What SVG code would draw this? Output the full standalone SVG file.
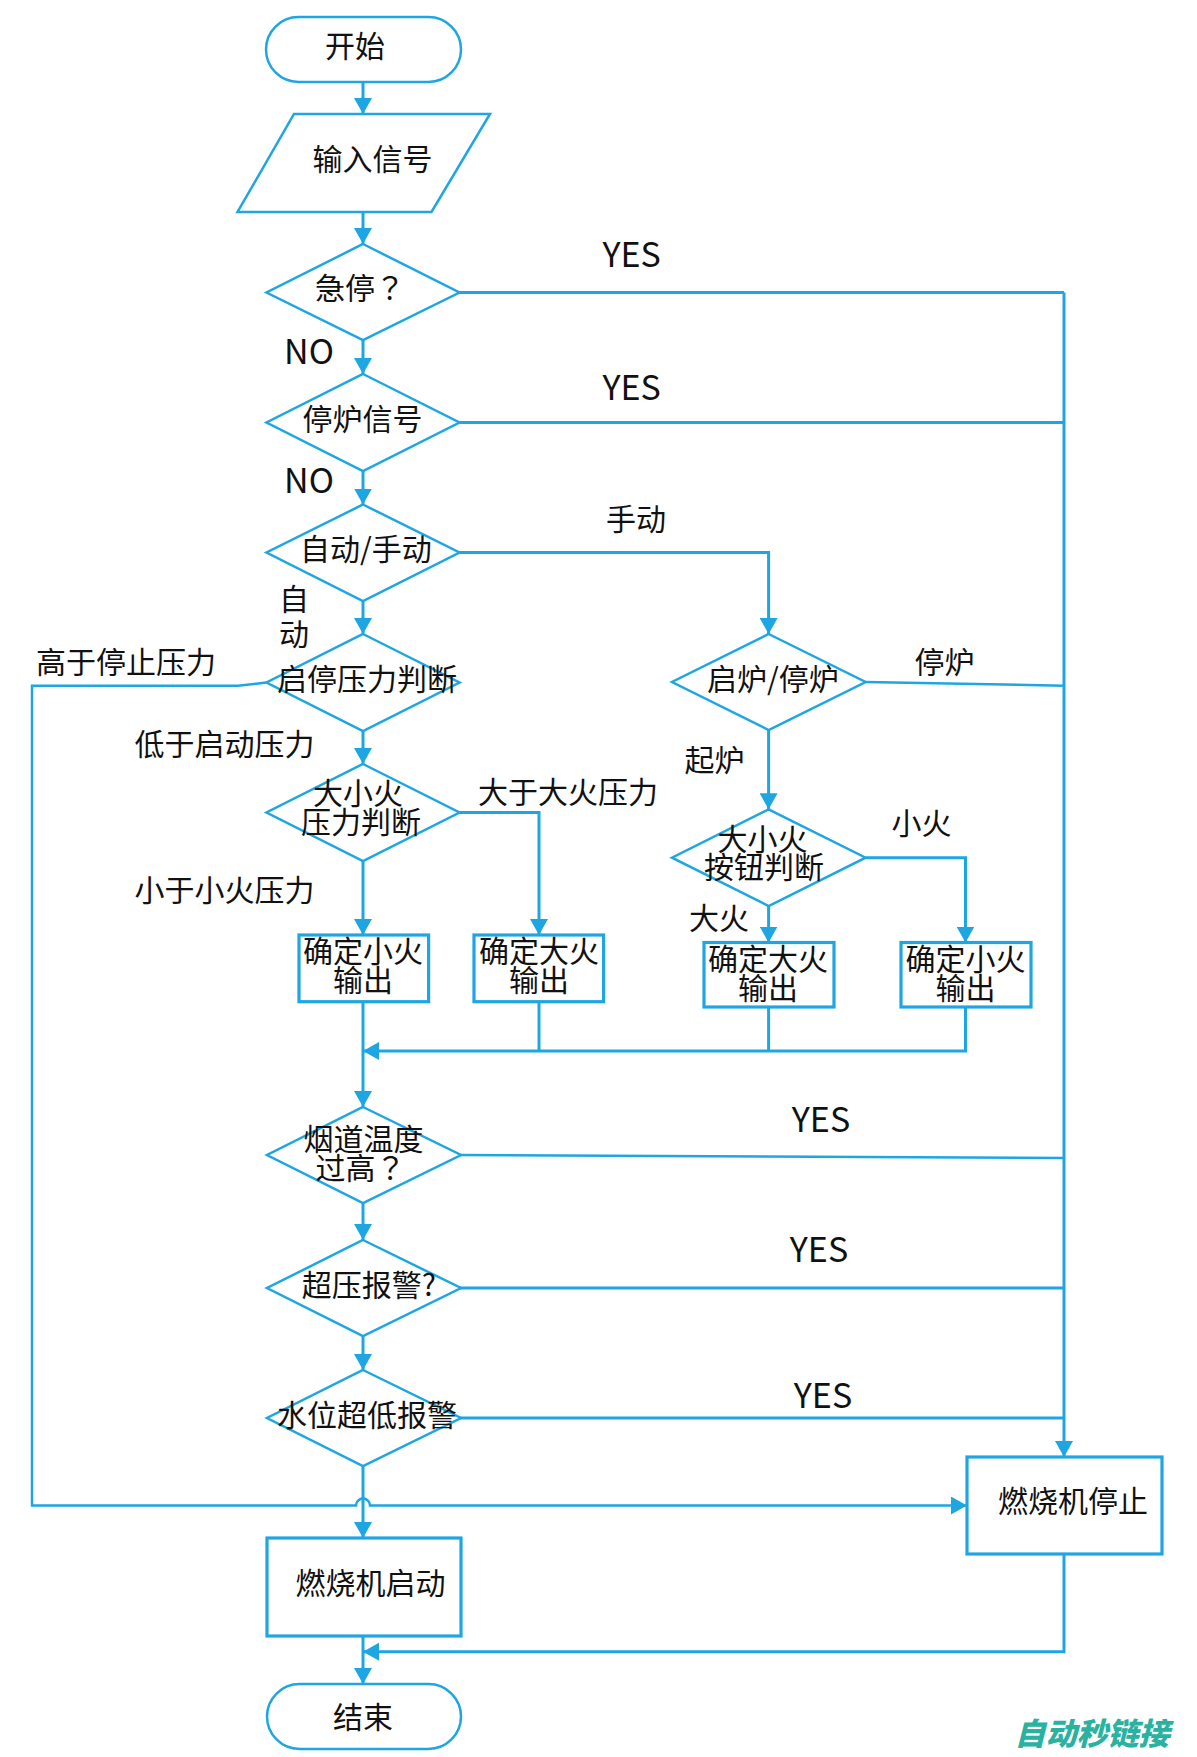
<svg xmlns="http://www.w3.org/2000/svg" width="1197" height="1757" viewBox="0 0 1197 1757">
<defs>
<marker id="ah" viewBox="0 0 16 18" refX="16" refY="9" markerWidth="16" markerHeight="18" markerUnits="userSpaceOnUse" orient="auto">
<path d="M0,0 L16,9 L0,18 z" fill="#1ea6e2"/>
</marker>
<style>
.sh{fill:#fff;stroke:#1ea6e2;stroke-width:2.5}
.bx{fill:#fff;stroke:#1ea6e2;stroke-width:3.2}
.ln{fill:none;stroke:#1ea6e2;stroke-width:3}
.tl{fill:none;stroke:#1ea6e2;stroke-width:2.5}
.ar{marker-end:url(#ah)}
text{font-family:"Noto Sans CJK SC","Noto Sans",sans-serif;font-size:30px;fill:#111;text-anchor:middle}
.tc{font-family:"Noto Sans CJK TC","Noto Sans CJK SC",sans-serif}
.en{font-size:34px}
.wm{font-size:31px;font-weight:900;fill:#2ab2a0;font-style:italic}
</style>
</defs>
<rect width="1197" height="1757" fill="#fff"/>
<g id="connectors">
<path class="ln ar" d="M363,82 V114"/>
<path class="ln ar" d="M363,212 V244"/>
<path class="ln ar" d="M363,340 V374"/>
<path class="ln ar" d="M363,471 V504.5"/>
<path class="ln ar" d="M363,601 V634"/>
<path class="ln ar" d="M363,731 V764"/>
<path class="ln ar" d="M363,861 V935"/>
<path class="ln ar" d="M459.5,812.5 H539 V935"/>
<path class="ln ar" d="M459.5,552.5 H768.6 V634"/>
<path class="ln ar" d="M768.6,730 V809.3"/>
<path class="ln ar" d="M865.6,857.7 H965.5 V942.5"/>
<path class="ln ar" d="M768.6,906 V942.5"/>
<path class="ln" d="M539,1001.7 V1051"/>
<path class="ln" d="M768.6,1007 V1051"/>
<path class="ln ar" d="M965.5,1007 V1051 H363"/>
<path class="ln ar" d="M363,1001.7 V1107"/>
<path class="ln ar" d="M363,1203 V1240"/>
<path class="ln ar" d="M363,1336 V1370"/>
<path class="ln ar" d="M363,1466 V1538"/>
<path class="ln ar" d="M363,1636 V1684"/>
<path class="ln ar" d="M1064,292.5 V1457"/>
<path class="ln" d="M459.5,292.5 H1064"/>
<path class="ln" d="M459.5,422.5 H1064"/>
<path class="tl" d="M865.6,682 L1064,685.7"/>
<path class="tl" d="M459.5,1155 L1064,1158"/>
<path class="ln" d="M459.5,1288 H1064"/>
<path class="ln" d="M459.5,1418 H1064"/>
<path class="tl ar" d="M266.5,682.5 L238,685.7 H32 V1505.5 H356 A7,7 0 0 1 370,1505.5 H967"/>
<path class="ln ar" d="M1064,1554 V1651.7 H363"/>
</g>
<g id="start"><rect class="sh" x="266" y="17" width="195" height="65" rx="32.5"/><text x="355" y="57">开始</text></g>
<g id="input"><polygon class="sh" points="294,114 490,114 431.5,212 237.5,212"/><text x="372.5" y="170">输入信号</text></g>
<g id="estop"><polygon class="sh" points="363,244 459.5,292.5 363,340 266.5,292.5"/><text class="tc" x="360" y="299">急停？</text></g>
<g id="stopsig"><polygon class="sh" points="363,374 459.5,422.5 363,471 266.5,422.5"/><text x="362.5" y="430">停炉信号</text></g>
<g id="automan"><polygon class="sh" points="363,504.5 459.5,552.5 363,601 266.5,552.5"/><text x="366" y="560">自动/手动</text></g>
<g id="pressjudge"><polygon class="sh" points="363,634 459.5,682.5 363,731 266.5,682.5"/><text x="367" y="690">启停压力判断</text></g>
<g id="firepress"><polygon class="sh" points="363,764 459.5,812.5 363,861 266.5,812.5"/><text x="358" y="804">大小火</text><text x="361" y="833">压力判断</text></g>
<g id="smallL"><rect class="bx" x="299" y="935" width="129.6" height="66.7"/><text x="363" y="962">确定小火</text><text x="363" y="991">输出</text></g>
<g id="bigL"><rect class="bx" x="474" y="935" width="129.6" height="66.7"/><text x="539" y="962">确定大火</text><text x="539" y="991">输出</text></g>
<g id="boiler"><polygon class="sh" points="768.6,634 865.6,682 768.6,730 672,682"/><text x="773" y="690">启炉/停炉</text></g>
<g id="button"><polygon class="sh" points="768.6,809.3 865.6,857.7 768.6,906 672,857.7"/><text x="762.6" y="850">大小火</text><text x="764" y="878">按钮判断</text></g>
<g id="bigR"><rect class="bx" x="704" y="942.5" width="130" height="64.5"/><text x="768" y="970">确定大火</text><text x="768" y="999">输出</text></g>
<g id="smallR"><rect class="bx" x="901" y="942.5" width="130" height="64.5"/><text x="965.5" y="970">确定小火</text><text x="965.5" y="999">输出</text></g>
<g id="flue"><polygon class="sh" points="363,1107 461,1155 363,1203 267,1155"/><text x="363.6" y="1150">烟道温度</text><text class="tc" x="360.5" y="1179">过高？</text></g>
<g id="overpress"><polygon class="sh" points="363,1240 461,1288 363,1336 267,1288"/><text x="368.8" y="1296">超压报警?</text></g>
<g id="water"><polygon class="sh" points="363,1370 461,1418 363,1466 267,1418"/><text x="367" y="1426">水位超低报警</text></g>
<g id="burnerstop"><rect class="bx" x="967" y="1457" width="195" height="97"/><text x="1073" y="1512">燃烧机停止</text></g>
<g id="burnerstart"><rect class="bx" x="267" y="1538" width="194" height="98"/><text x="370.5" y="1594">燃烧机启动</text></g>
<g id="end"><rect class="sh" x="267" y="1684" width="194" height="65" rx="32.5"/><text x="363" y="1728">结束</text></g>
<g id="labels">
<text class="en" x="631.7" y="267">YES</text>
<text class="en" x="631.7" y="400">YES</text>
<text class="en" x="821" y="1132">YES</text>
<text class="en" x="819" y="1262">YES</text>
<text class="en" x="823" y="1408">YES</text>
<text class="en" x="309" y="364">NO</text>
<text class="en" x="309" y="493">NO</text>
<text x="636" y="530">手动</text>
<text x="294" y="610">自</text>
<text x="294" y="645">动</text>
<text x="126" y="673">高于停止压力</text>
<text x="224.6" y="755">低于启动压力</text>
<text x="568" y="803">大于大火压力</text>
<text x="224.6" y="901">小于小火压力</text>
<text x="944.5" y="673">停炉</text>
<text x="714.5" y="771">起炉</text>
<text x="921.5" y="834">小火</text>
<text x="719" y="929">大火</text>
<text class="wm" x="1092" y="1745">自动秒链接</text>
</g>
</svg>
